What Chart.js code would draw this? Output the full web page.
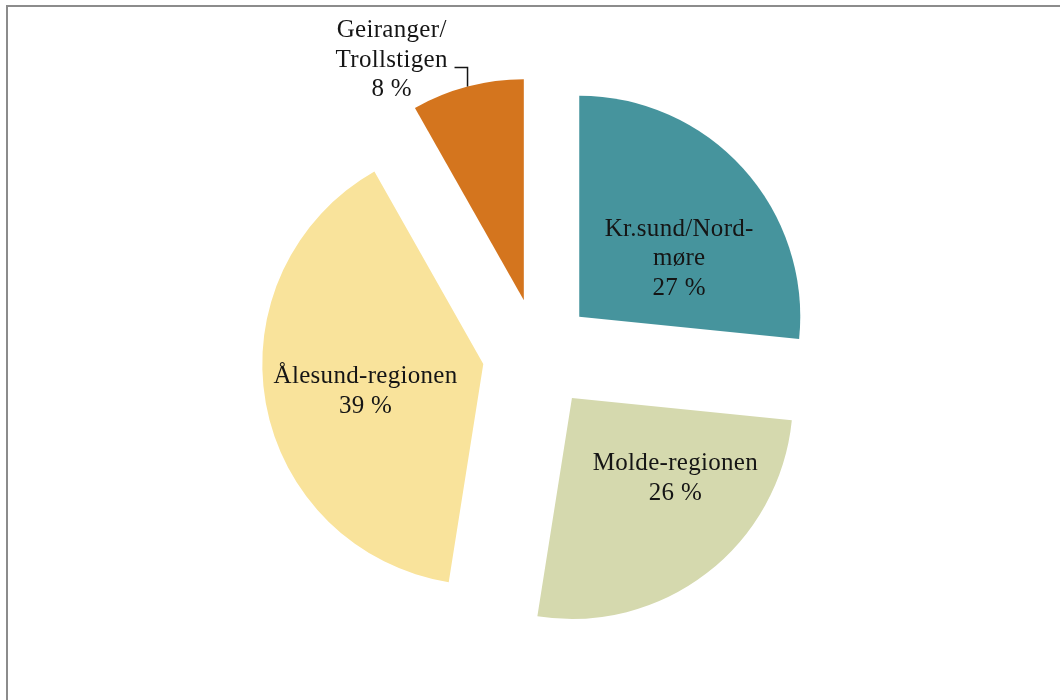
<!DOCTYPE html>
<html>
<head>
<meta charset="utf-8">
<script src="https://cdn.jsdelivr.net/npm/chart.js@4.4.0/dist/chart.umd.min.js"></script>
<style>
  html, body { margin: 0; padding: 0; background: #fff; overflow: hidden; }
  #wrap { position: relative; width: 1060px; height: 700px; }
  #frame { position: absolute; left: 6px; top: 5px; width: 1100px; height: 800px;
           border-top: 2px solid #8c8c8c; border-left: 2px solid #8c8c8c; }
  canvas { position: absolute; left: 0; top: 0; }
</style>
</head>
<body>
<div id="wrap">
  <div id="frame"></div>
  <canvas id="pieChart" width="1060" height="700"></canvas>
</div>
<script>
    // Data (share of visitors per region, in %)
    const regions = ['Kr.sund/Nordmøre', 'Molde-regionen', 'Ålesund-regionen', 'Geiranger/Trollstigen'];
    const labelLines = [['Kr.sund/Nord-', 'møre'], ['Molde-regionen'], ['Ålesund-regionen'], ['Geiranger/', 'Trollstigen']];
    const shares = [26.6, 25.9, 39.3, 8.2];
    const sliceColors = ['#46949D', '#D5D9AE', '#F9E39B', '#D4751E'];

    // how far every slice is pulled out of the pie
    const explode = 55.6;
    // label nudge from the slice centre point, last one sits outside with a leader line
    const labelNudge = [[18, 16], [36, -7], [-9, 8], [-104, -133]];
    const lineHeight = 29.5;

    // move each slice out along its middle angle without growing its radius
    const baseArcDraw = Chart.ArcElement.prototype.draw;
    Chart.ArcElement.prototype.draw = function (ctx) {
        const mid = (this.startAngle + this.endAngle) / 2;
        ctx.save();
        ctx.translate(Math.cos(mid) * explode, Math.sin(mid) * explode);
        baseArcDraw.call(this, ctx);
        ctx.restore();
    };

    const sliceLabels = {
        id: 'sliceLabels',
        afterDatasetsDraw(chart) {
            const ctx = chart.ctx;
            const meta = chart.getDatasetMeta(0);
            const total = shares.reduce((a, b) => a + b, 0);
            ctx.save();
            ctx.font = '25px "Liberation Serif", serif';
            ctx.letterSpacing = '0.3px';
            ctx.fillStyle = '#151515';
            ctx.strokeStyle = '#151515';
            ctx.textAlign = 'center';
            ctx.textBaseline = 'middle';
            meta.data.forEach((arc, i) => {
                const mid = (arc.startAngle + arc.endAngle) / 2;
                const c = arc.getCenterPoint();
                const x = c.x + Math.cos(mid) * explode + labelNudge[i][0];
                const y = c.y + Math.sin(mid) * explode + labelNudge[i][1];
                const lines = labelLines[i].concat(Math.round(shares[i] / total * 100) + ' %');
                lines.forEach((t, k) => {
                    ctx.fillText(t, x, y + (k - (lines.length - 1) / 2) * lineHeight);
                });

                // small slice: leader line from the label to the arc
                if (i === 3) {
                    const ex = arc.x + Math.cos(mid) * (explode + arc.outerRadius);
                    const ey = arc.y + Math.sin(mid) * (explode + arc.outerRadius);
                    const ly = y + 7;
                    ctx.lineWidth = 1.5;
                    ctx.beginPath();
                    ctx.moveTo(ex - 13, ly);
                    ctx.lineTo(ex, ly);
                    ctx.lineTo(ex, ey);
                    ctx.stroke();
                }
            });
            ctx.restore();
        }
    };

    const ctx = document.getElementById('pieChart').getContext('2d');
    new Chart(ctx, {
        type: 'pie',
        data: {
            labels: regions,
            datasets: [{
                data: shares,
                backgroundColor: sliceColors,
                borderWidth: 0
            }]
        },
        options: {
            responsive: false,
            animation: false,
            layout: {
                padding: { top: 133, bottom: 125, left: 317, right: 301 }
            },
            plugins: {
                legend: { display: false },
                tooltip: { enabled: false }
            }
        },
        plugins: [sliceLabels]
    });
</script>
</body>
</html>
